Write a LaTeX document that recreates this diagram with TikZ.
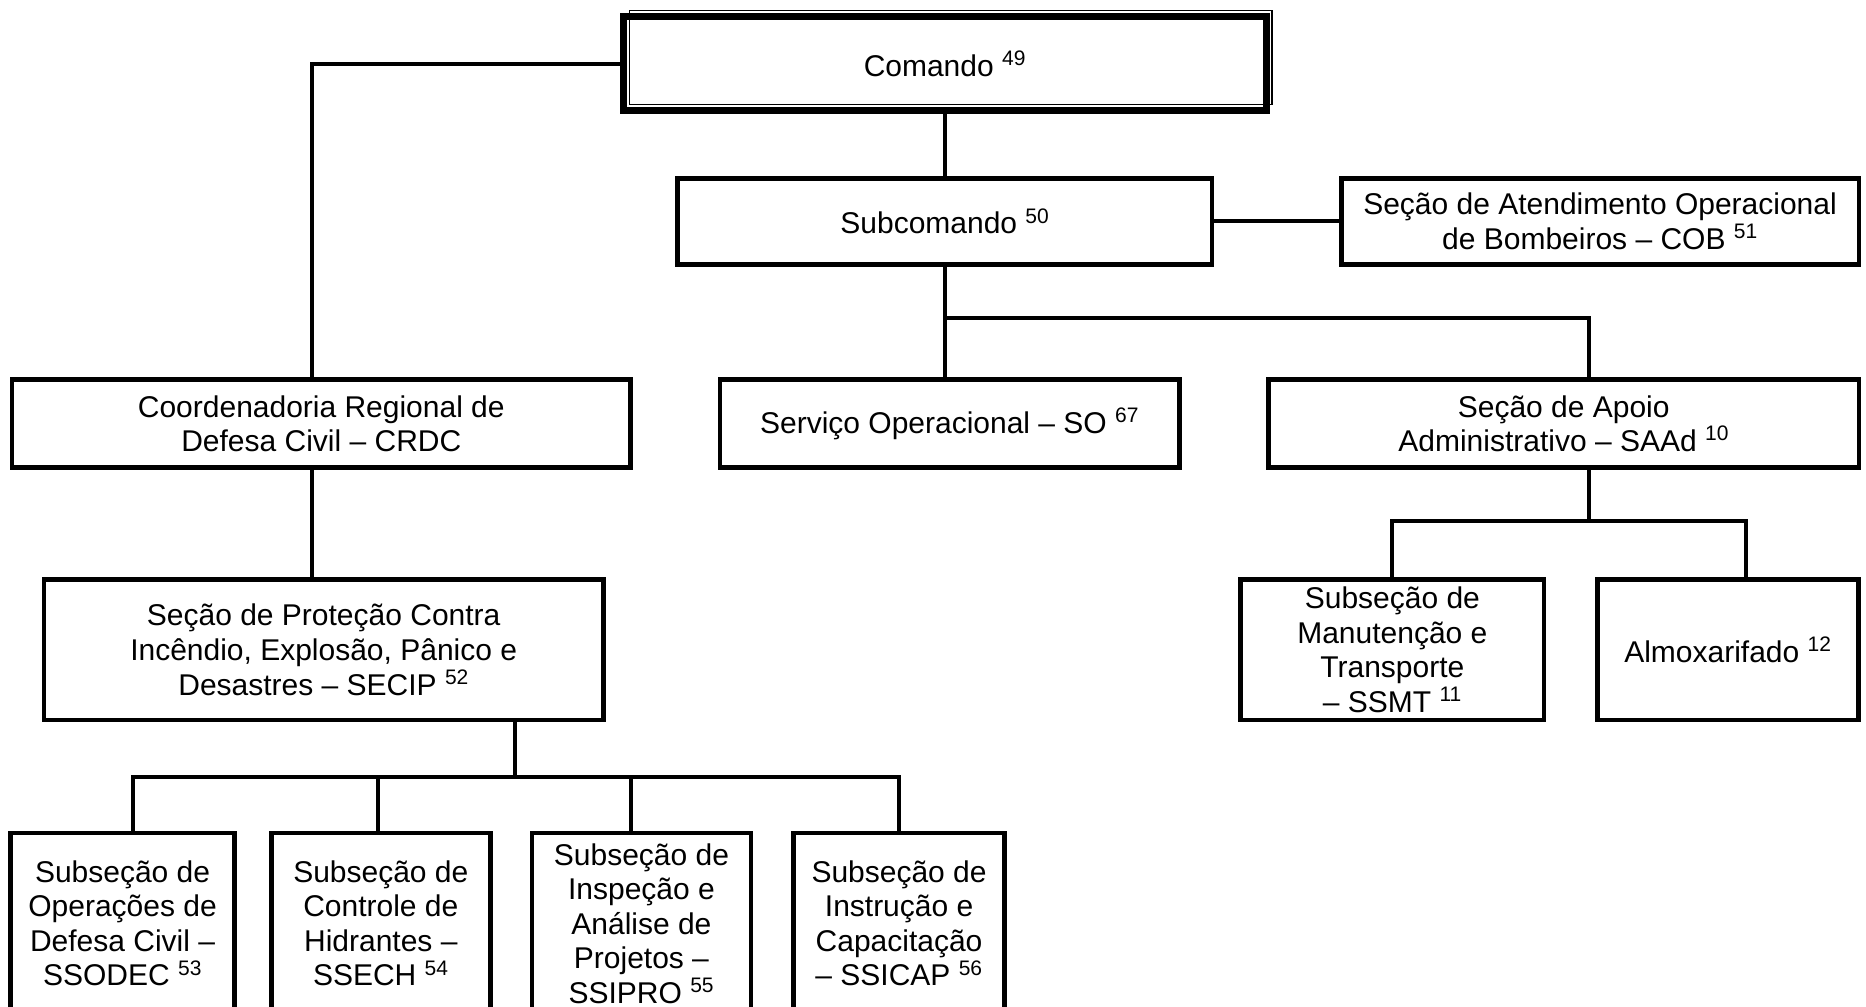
\documentclass[tikz,border=0pt]{standalone}
\usepackage{fontspec}
\setmainfont{Liberation Sans}
\usetikzlibrary{positioning,calc}

\begin{document}
\begin{tikzpicture}[
  x=1pt, y=-1pt,
  unit/.style={draw=black, line width=4pt, fill=white, outer sep=0pt, inner sep=2pt, align=center, font=\fontsize{25.2}{29}\selectfont},
  link/.style={draw=black, line width=3.4pt}
]
\useasboundingbox (0,0) rectangle (1568,846);

% top of the chart
\node[unit, line width=6pt, minimum width=540pt, minimum height=79pt] (comando) at (794,53.5) {Comando \textsuperscript{49}};
\draw[line width=1.2pt] ([xshift=5pt,yshift=5pt]comando.south west) rectangle ([xshift=5pt,yshift=5pt]comando.north east);
\node[unit, minimum width=449pt, minimum height=72pt] (subcomando) at (794,186) {Subcomando \textsuperscript{50}};
\node[unit, minimum width=435pt, minimum height=72pt] (cob) at (1344.5,186) {Seção de Atendimento Operacional\\de Bombeiros – COB \textsuperscript{51}};

% second level
\node[unit, minimum width=520pt, minimum height=74pt] (crdc) at (270,356) {Coordenadoria Regional de\\Defesa Civil – CRDC};
\node[unit, minimum width=386pt, minimum height=74pt] (so) at (798,356) {Serviço Operacional – SO \textsuperscript{67}};
\node[unit, minimum width=496pt, minimum height=74pt] (saad) at (1314,356) {Seção de Apoio\\Administrativo – SAAd \textsuperscript{10}};

% third level
\node[unit, minimum width=470pt, minimum height=118pt] (secip) at (272,546) {Seção de Proteção Contra\\Incêndio, Explosão, Pânico e\\Desastres – SECIP \textsuperscript{52}};
\node[unit, minimum width=255pt, minimum height=118pt] (ssmt) at (1170,546) {Subseção de\\Manutenção e\\Transporte\\– SSMT \textsuperscript{11}};
\node[unit, minimum width=219pt, minimum height=118pt] (almox) at (1452,546) {Almoxarifado \textsuperscript{12}};

% subsections of SECIP
\node[unit, minimum width=188pt, minimum height=152pt] (ssodec) at (103,776) {Subseção de\\Operações de\\Defesa Civil –\\SSODEC \textsuperscript{53}};
\node[unit, minimum width=184pt, minimum height=152pt] (ssech) at (320,776) {Subseção de\\Controle de\\Hidrantes –\\SSECH \textsuperscript{54}};
\node[unit, minimum width=184pt, minimum height=152pt] (ssipro) at (539,776) {Subseção de\\Inspeção e\\Análise de\\Projetos –\\SSIPRO \textsuperscript{55}};
\node[unit, minimum width=177pt, minimum height=152pt] (ssicap) at (755.5,776) {Subseção de\\Instrução e\\Capacitação\\– SSICAP \textsuperscript{56}};

% connectors
\coordinate (jsub) at (794,267);
\coordinate (jsaad) at (1335,438);
\coordinate (jsecip) at (433,653);

\draw[link] (comando.west) -| ([xshift=-8pt]crdc.north);
\draw[link] (comando.south) -- (comando.south |- subcomando.north);
\draw[link] (subcomando.east) -- (cob.west);
\draw[link] (subcomando.south) -- (jsub);
\draw[link] (jsub) -- (jsub |- so.north);
\draw[link] (jsub) -| ([xshift=21pt]saad.north);
\draw[link] ([xshift=-8pt]crdc.south) -- ([xshift=-8pt]crdc.south |- secip.north);
\draw[link] (jsaad |- saad.south) -- (jsaad);
\draw[link] (jsaad) -| (ssmt.north);
\draw[link] (jsaad) -| ([xshift=15pt]almox.north);
\draw[link] (jsecip |- secip.south) -- (jsecip);
\draw[link] (jsecip) -| ([xshift=9pt]ssodec.north);
\draw[link] (jsecip) -| ([xshift=-2pt]ssech.north);
\draw[link] (jsecip) -| ([xshift=-9pt]ssipro.north);
\draw[link] (jsecip) -| (ssicap.north);
\end{tikzpicture}
\end{document}
